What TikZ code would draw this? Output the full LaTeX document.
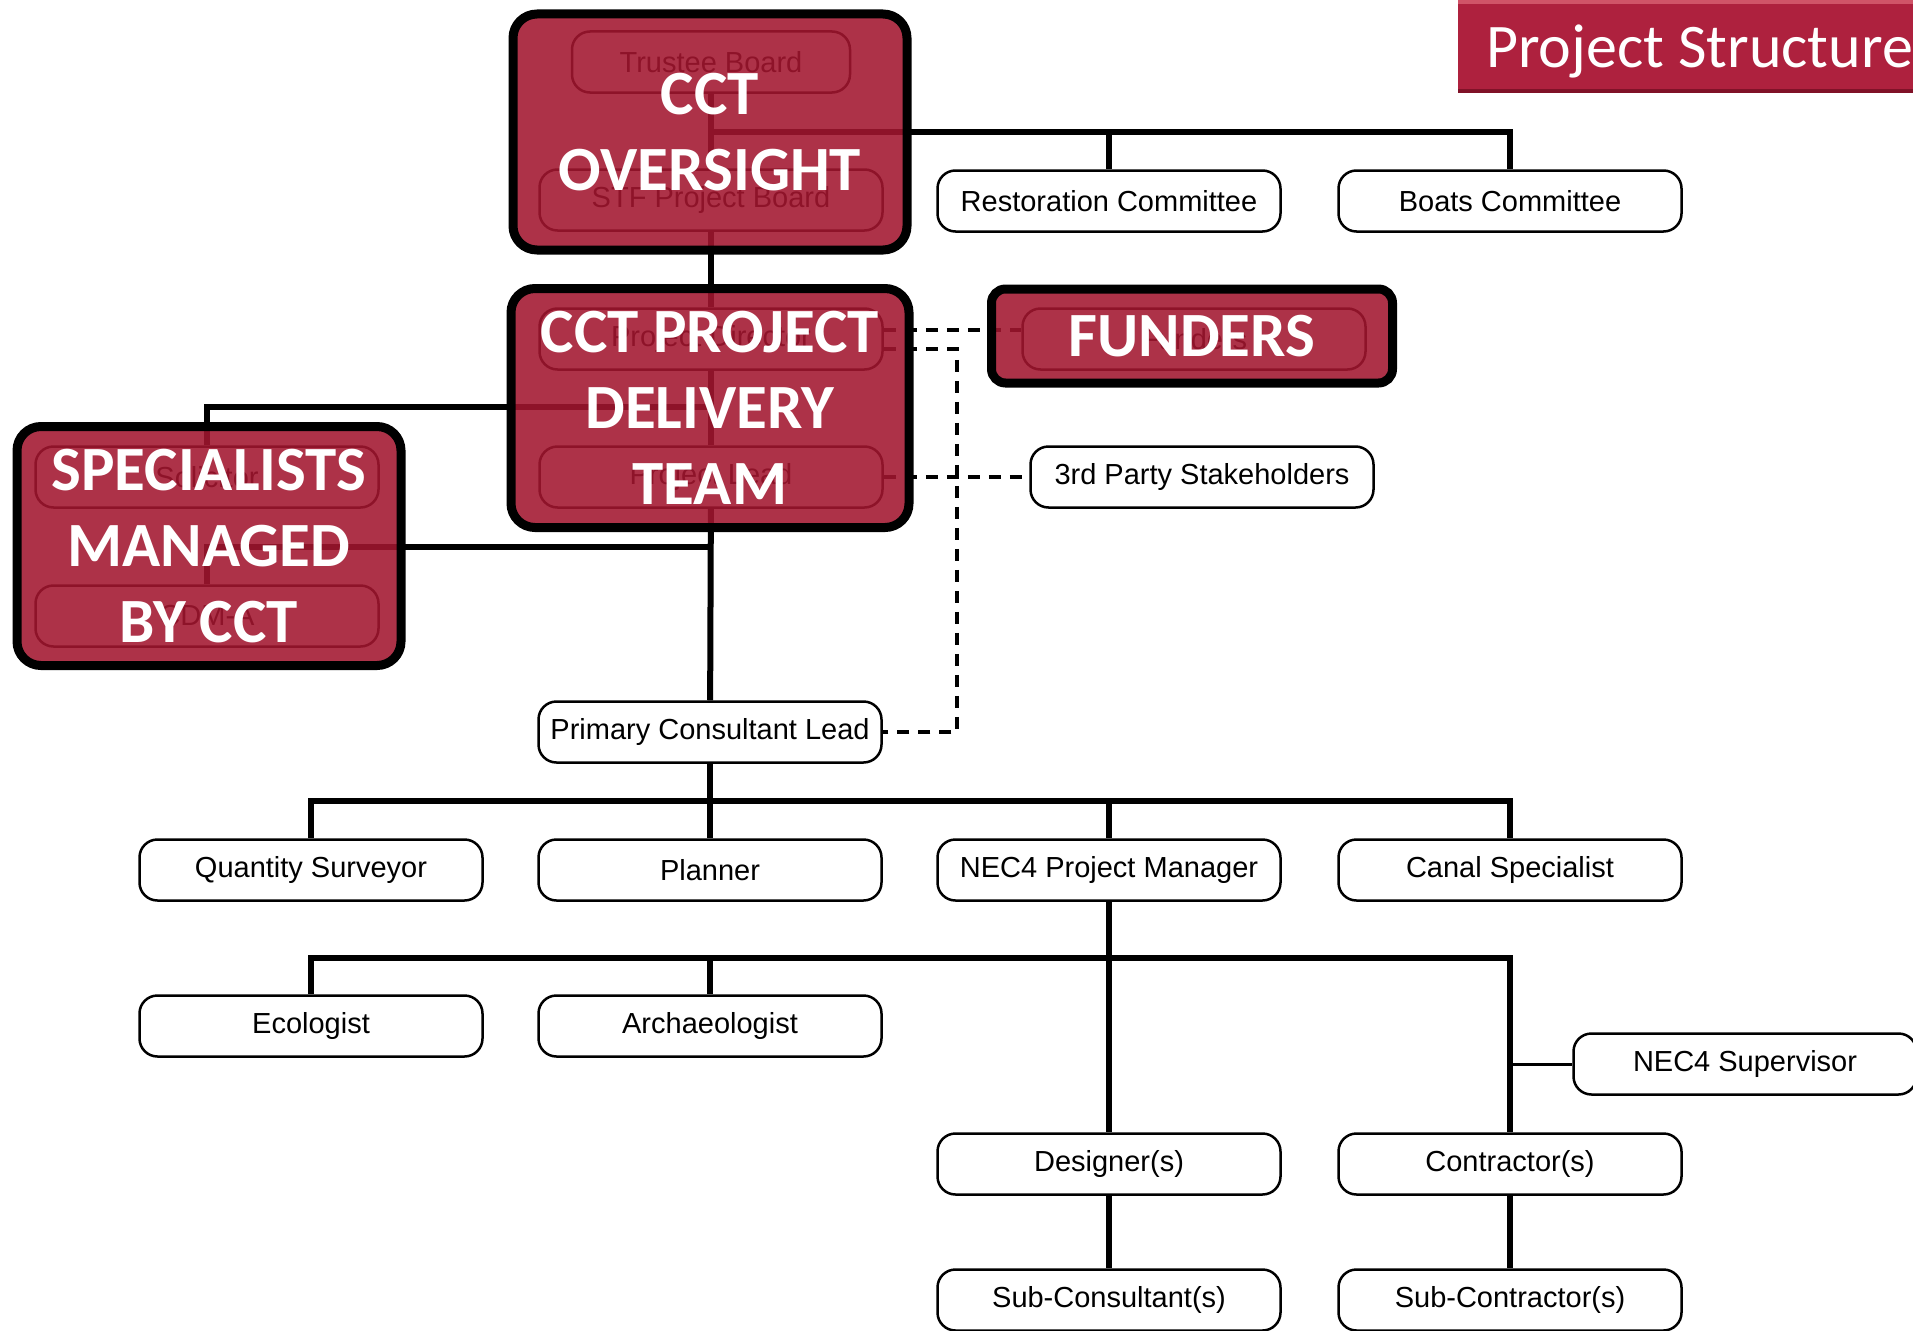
\documentclass[tikz,border=0pt]{standalone}
\usepackage{fontspec}
\setmainfont{Liberation Sans}
\newfontfamily\calibri{Carlito}
\usetikzlibrary{positioning}
\definecolor{cctred}{RGB}{162,22,47}
\definecolor{bannerred}{RGB}{174,33,62}
\definecolor{bannertop}{RGB}{208,84,104}
\definecolor{bannerlow}{RGB}{128,18,40}

\begin{document}
\begin{tikzpicture}[
  x=1pt, y=-1pt,
  role/.style={rectangle, draw, line width=2.5pt, rounded corners=18pt, fill=white, minimum width=343pt, minimum height=61pt, inner sep=0pt, font=\fontsize{29}{34}\selectfont},
  cover/.style={rectangle, draw, line width=9pt, rounded corners=24pt, fill=cctred, fill opacity=0.88, text opacity=1, text=white, inner sep=0pt, align=center, font=\calibri\bfseries\fontsize{63}{76}\selectfont},
  link/.style={line width=6pt},
  sidelink/.style={line width=3pt},
  dashlink/.style={line width=3.5pt, dash pattern=on 12pt off 9pt}
]
\useasboundingbox (0,0) rectangle (1913,1330);

% Nodes
\node[role, minimum width=278pt] (trustee) at (711,62) {Trustee Board};
\node[role] (stfboard) at (711,200) {STF Project Board};
\node[role] (restoration) at (1109,201) {Restoration Committee};
\node[role] (boats) at (1510,201) {Boats Committee};
\node[role] (director) at (711,339) {Project Director};
\node[role] (funds) at (1194,339) {Funders};
\node[role] (lead) at (711,477) {Project Lead};
\node[role] (stakeholders) at (1202,477) {3rd Party Stakeholders};
\node[role] (solicitor) at (207,477) {Solicitor};
\node[role] (cdma) at (207,616) {CDM-A};
\node[role] (primary) at (710,732) {Primary Consultant Lead};
\node[role] (surveyor) at (311,870) {Quantity Surveyor};
\node[role] (planner) at (710,870) {Planner};
\node[role] (nec4pm) at (1109,870) {NEC4 Project Manager};
\node[role] (canal) at (1510,870) {Canal Specialist};
\node[role] (ecologist) at (311,1026) {Ecologist};
\node[role] (archaeologist) at (710,1026) {Archaeologist};
\node[role] (supervisor) at (1745,1064) {NEC4 Supervisor};
\node[role] (designer) at (1109,1164) {Designer(s)};
\node[role] (contractor) at (1510,1164) {Contractor(s)};
\node[role] (subconsultant) at (1109,1300) {Sub-Consultant(s)};
\node[role] (subcontractor) at (1510,1300) {Sub-Contractor(s)};

\coordinate (topbar) at (711,132);
\coordinate (solbar) at (711,407);
\coordinate (cdmbar) at (711,547);
\coordinate (rowbar) at (710,801);
\coordinate (subbar) at (1109,958);
\coordinate (dashbend) at (957,349);

% Connections
\draw[link] (trustee) -- (stfboard);
\draw[link] (topbar) -| (restoration.north);
\draw[link] (topbar) -| (boats.north);
\draw[link] (stfboard) -- (director);
\draw[link] (director) -- (lead);
\draw[link] (solbar) -| (solicitor.north);
\draw[link] (cdmbar) -| (cdma.north);
\draw[link] (lead) -- (primary);
\draw[link] (primary) -- (planner);
\draw[link] (rowbar) -| (surveyor.north);
\draw[link] (rowbar) -| (nec4pm.north);
\draw[link] (rowbar) -| (canal.north);
\draw[link] (nec4pm) -- (designer);
\draw[link] (subbar) -| (ecologist.north);
\draw[link] (subbar) -| (archaeologist.north);
\draw[link] (subbar) -| (contractor.north);
\draw[sidelink] (contractor.north |- supervisor.west) -- (supervisor.west);
\draw[link] (designer) -- (subconsultant);
\draw[link] (contractor) -- (subcontractor);
\draw[dashlink] ([yshift=9pt]director.east) -- ([yshift=9pt]funds.west);
\draw[dashlink] ([yshift=-10pt]director.east) -- (dashbend) |- (primary.east);
\draw[dashlink] (lead.east) -- (stakeholders.west);

% CCT overlays
\node[cover, minimum width=394pt, minimum height=236pt] (oversight) at (710,132) {CCT\\OVERSIGHT};
\node[cover, minimum width=398pt, minimum height=239pt] (delivery) at (710,408) {CCT PROJECT\\DELIVERY\\TEAM};
\node[cover, minimum width=384pt, minimum height=239pt] (specialists) at (209,546) {SPECIALISTS\\MANAGED\\BY CCT};
\node[cover, minimum width=401pt, minimum height=94pt, rounded corners=14pt] (funders) at (1192,336) {FUNDERS};

% Title
\fill[bannerred] (1458,0) rectangle (1930,93);
\fill[bannertop] (1458,0) rectangle (1930,4);
\fill[bannerlow] (1458,89) rectangle (1930,93);
\node[anchor=base west, text=white, inner sep=0pt, font=\calibri\fontsize{62}{70}\selectfont] (title) at (1486,67) {Project Structure};

\end{tikzpicture}
\end{document}
